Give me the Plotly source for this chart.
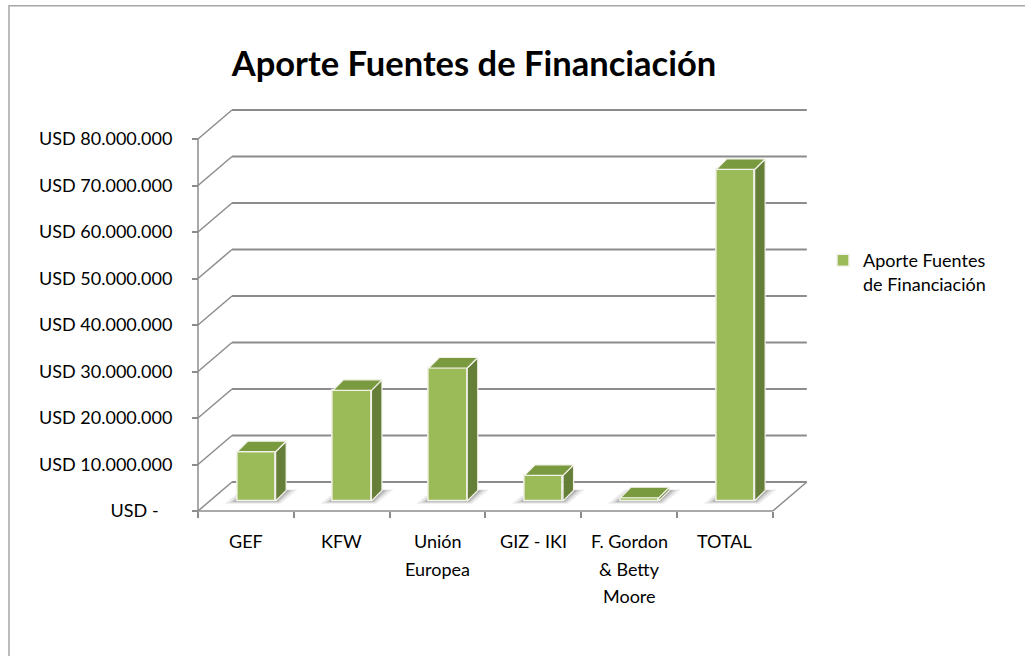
import plotly.graph_objects as go

# ---------------- data ----------------
categories = [["GEF"], ["KFW"], ["Unión", "Europea"], ["GIZ - IKI"],
              ["F. Gordon", "& Betty", "Moore"], ["TOTAL"]]
values = [10.6e6, 23.8e6, 28.6e6, 5.5e6, 0.7e6, 71.3e6]
tick_values = [0, 10e6, 20e6, 30e6, 40e6, 50e6, 60e6, 70e6, 80e6]
tick_labels = ["USD -\u00a0\u00a0\u00a0", "USD 10.000.000", "USD 20.000.000", "USD 30.000.000",
               "USD 40.000.000", "USD 50.000.000", "USD 60.000.000", "USD 70.000.000",
               "USD 80.000.000"]
series_name = "Aporte Fuentes de Financiación"
chart_title = "Aporte Fuentes de Financiación"

# ---------------- geometry / style ----------------
W, H = 1025, 656
FONT = "Lato"
X0PX, XPU = 198.0, 95.8        # pixel of x=0, pixels per category
Y0PX, YPU = 511.0, 4.65e-6     # pixel (from top) of y=0, pixels per USD
xr = [-0.15, 6.6]
yr = [-3e6, 92e6]
xdom = [(X0PX + XPU * xr[0]) / W, (X0PX + XPU * xr[1]) / W]
ydom = [((H - Y0PX) + YPU * yr[0]) / H, ((H - Y0PX) + YPU * yr[1]) / H]

DX, DY = 34 / XPU, 29 / YPU          # floor depth
OX, OY = 10.5 / XPU, 10 / YPU        # bar front offset
BX, BY = 10.5 / XPU, 10.5 / YPU      # bar depth
BW = 38.5 / XPU                      # bar width
n = len(values)

GRID = "#8C8C8C"
FRONT, SIDE, TOP = "#9BBB59", "#667F38", "#7A9A40"
EDGE = "#F2F2EA"

shapes = []
# back-wall gridlines and side-wall diagonals
for t in tick_values:
    shapes.append(dict(type="line", xref="x", yref="y", x0=DX, y0=t + DY, x1=n + DX, y1=t + DY,
                       line=dict(color=GRID, width=2), layer="below"))
    shapes.append(dict(type="line", xref="x", yref="y", x0=0, y0=t, x1=DX, y1=t + DY,
                       line=dict(color=GRID, width=1.5), layer="below"))
# floor front / right edges and y axis line
shapes.append(dict(type="line", xref="x", yref="y", x0=0, y0=0, x1=n, y1=0,
                   line=dict(color=GRID, width=1.5), layer="below"))
shapes.append(dict(type="line", xref="x", yref="y", x0=n, y0=0, x1=n + DX, y1=DY,
                   line=dict(color=GRID, width=1.5), layer="below"))
shapes.append(dict(type="line", xref="x", yref="y", x0=0, y0=0, x1=0, y1=tick_values[-1],
                   line=dict(color=GRID, width=1.5), layer="below"))

# shadows on the floor
for i, v in enumerate(values):
    cx = i + 0.5 + OX
    xl, xrr = cx - BW / 2, cx + BW / 2
    for grow, alpha in [(1.0, 0.08), (0.6, 0.12), (0.3, 0.16)]:
        path = "M {} {} L {} {} L {} {} L {} {} Z".format(
            xl - 0.13 * grow, OY - 0.6e6 * grow,
            xrr + 0.05 * grow, OY - 0.6e6 * grow,
            xrr + BX + 0.12 * grow, OY + BY + 0.2e6 * grow,
            xl + BX - 0.06 * grow, OY + BY + 0.2e6 * grow)
        shapes.append(dict(type="path", xref="x", yref="y", path=path,
                           fillcolor=f"rgba(0,0,0,{alpha})", line=dict(width=0), layer="between"))

# chart border
shapes.append(dict(type="rect", xref="paper", yref="paper", x0=9 / W, y0=-0.05, x1=1.05,
                   y1=1 - 5.7 / H, line=dict(color="#A6A6A6", width=1.5), layer="below"))

fig = go.Figure()

# front faces of the bars
centers = [i + 0.5 + OX for i in range(n)]
fig.add_trace(go.Bar(x=centers, y=values, base=OY, width=BW, name="Aporte Fuentes<br>de Financiación",
                     marker=dict(color=FRONT, line=dict(color=EDGE, width=1.5)),
                     showlegend=True, hoverinfo="skip"))

# side and top faces
sx, sy, tx, ty = [], [], [], []
for cx, v in zip(centers, values):
    xl, xrr = cx - BW / 2, cx + BW / 2
    sx += [xrr, xrr + BX, xrr + BX, xrr, xrr, None]
    sy += [OY, OY + BY, OY + v + BY, OY + v, OY, None]
    tx += [xl, xrr, xrr + BX, xl + BX, xl, None]
    ty += [OY + v, OY + v, OY + v + BY, OY + v + BY, OY + v, None]
fig.add_trace(go.Scatter(x=sx, y=sy, mode="lines", fill="toself", fillcolor=SIDE,
                         line=dict(color=EDGE, width=1.2), showlegend=False, hoverinfo="skip"))
fig.add_trace(go.Scatter(x=tx, y=ty, mode="lines", fill="toself", fillcolor=TOP,
                         line=dict(color=EDGE, width=1.2), showlegend=False, hoverinfo="skip"))

# category labels (one annotation per line)
annotations = []
for i, lines in enumerate(categories):
    for k, line in enumerate(lines):
        annotations.append(dict(x=i + 0.5, xref="x", y=(H - (541 + 27.5 * k)) / H, yref="paper",
                                text=line, showarrow=False, xanchor="center", yanchor="middle",
                                font=dict(family=FONT, size=18, color="#000000")))

fig.update_layout(
    width=W, height=H, autosize=False,
    margin=dict(l=0, r=0, t=0, b=0),
    paper_bgcolor="white", plot_bgcolor="rgba(0,0,0,0)",
    title=dict(text=chart_title, x=474 / W, y=1 - 64 / H, xanchor="center", yanchor="middle",
               xref="paper", yref="paper",
               font=dict(family=FONT, size=34.5, color="#000000", weight="bold")),
    xaxis=dict(range=xr, domain=xdom, anchor="free", position=(H - Y0PX) / H,
               tickvals=list(range(n + 1)), ticks="outside", ticklen=6, tickwidth=1.5,
               tickcolor=GRID, showticklabels=False, showgrid=False, zeroline=False,
               showline=False, fixedrange=True),
    yaxis=dict(range=yr, domain=ydom, anchor="free", position=X0PX / W,
               tickvals=tick_values, ticktext=tick_labels, ticks="outside", ticklen=6,
               tickwidth=1.5, tickcolor=GRID, showgrid=False, zeroline=False, showline=False,
               ticklabelstandoff=16,
               tickfont=dict(family=FONT, size=18, color="#000000"), fixedrange=True),
    legend=dict(x=823 / W, y=1 - 242 / H, xanchor="left", yanchor="top", valign="top",
                font=dict(family=FONT, size=18, color="#000000"), bgcolor="rgba(0,0,0,0)"),
    shapes=shapes,
    annotations=annotations,
    bargap=0,
)

fig.write_html("out.html", config={"displayModeBar": False},
               post_script="document.body.style.margin='0';")
